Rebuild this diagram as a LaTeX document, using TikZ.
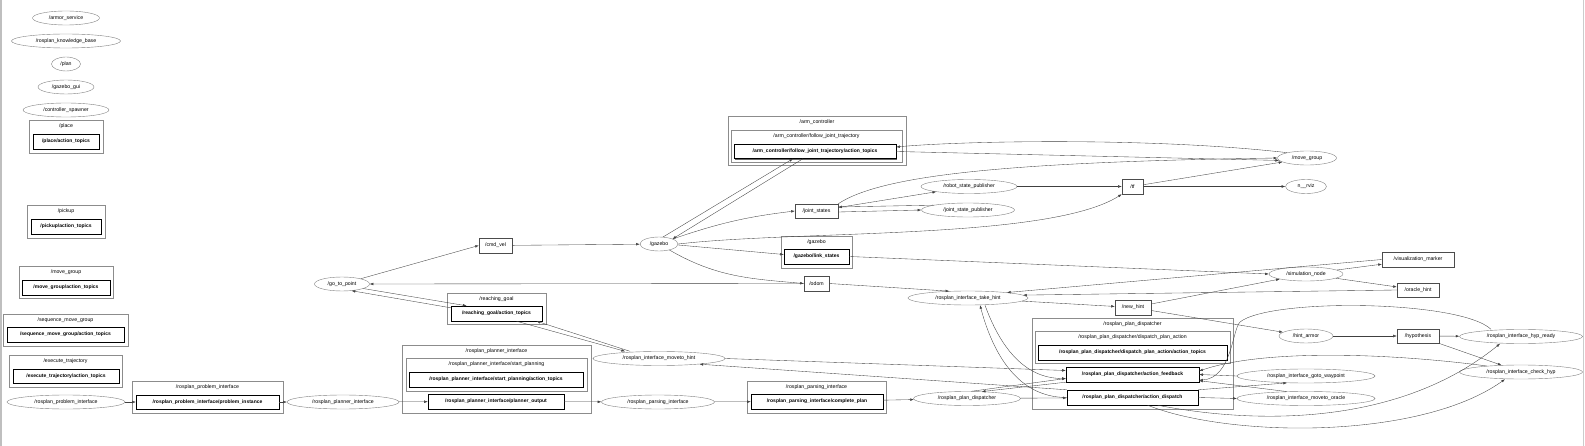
\documentclass[tikz,border=0pt]{standalone}
\usepackage{fontspec}
\newfontfamily\gfont{Liberation Sans}
\usepackage{tikz}
\usetikzlibrary{positioning,arrows.meta,shapes.geometric,shadows}

\begin{document}
\begin{tikzpicture}[
  x=1pt, y=1pt,
  every node/.style={font=\gfont\fontsize{5.2}{6}\selectfont, inner sep=0pt},
  rosnode/.style={draw=black!50, ellipse, minimum height=14},
  topic/.style={draw=black!70, rectangle, minimum height=15},
  topicb/.style={draw=black, rectangle, minimum height=15, font=\gfont\bfseries\fontsize{5}{6}\selectfont},
  box3d/.style={topicb, fill=white, drop shadow={shadow xshift=1.2pt, shadow yshift=-1.2pt, fill=black!60, opacity=1}},
  cluster/.style={draw=black!45, rectangle},
  clbl/.style={anchor=north, inner sep=3.5pt},
  edge/.style={-{Latex[length=3.6pt,width=2.6pt]}, draw=black!75, line width=0.35pt},
]
  \useasboundingbox (0,0) rectangle (1585,-446);
  \draw[black!25, line width=1.5pt] (0.75,0) -- (0.75,-446);
  \draw[black!20, line width=1pt] (1583.5,0) -- (1583.5,-446);

  % lone nodes
  \node[rosnode, minimum width=67] (armor) at (66,-18) {/armor\_service};
  \node[rosnode, minimum width=109] (kb) at (66,-41) {/rosplan\_knowledge\_base};
  \node[rosnode, minimum width=29] (plan) at (66,-64) {/plan};
  \node[rosnode, minimum width=56] (gazebogui) at (66,-87) {/gazebo\_gui};
  \node[rosnode, minimum width=86] (spawner) at (66,-110) {/controller\_spawner};

  % action namespaces on the left
  \node[cluster, minimum width=74, minimum height=33, label={[clbl]north:/place}] (placec) at (66,-136.5) {};
  \node[box3d, minimum width=66] (placetopics) at (66,-141.5) {/place/action\_topics};
  \node[cluster, minimum width=78, minimum height=33, label={[clbl]north:/pickup}] (pickupc) at (66,-221.5) {};
  \node[box3d, minimum width=70] (pickuptopics) at (66,-226.5) {/pickup/action\_topics};
  \node[cluster, minimum width=94, minimum height=32, label={[clbl]north:/move\_group}] (mgc) at (66,-282) {};
  \node[box3d, minimum width=88] (mgtopics) at (66,-287.5) {/move\_group/action\_topics};
  \node[cluster, minimum width=125, minimum height=32, label={[clbl]north:/sequence\_move\_group}] (seqc) at (65.5,-330) {};
  \node[box3d, minimum width=117] (seqtopics) at (65.5,-334.5) {/sequence\_move\_group/action\_topics};
  \node[cluster, minimum width=113, minimum height=32, label={[clbl]north:/execute\_trajectory}] (exec) at (65.5,-371) {};
  \node[box3d, minimum width=106, minimum height=14] (exectopics) at (66,-376) {/execute\_trajectory/action\_topics};

  % planning chain
  \node[rosnode, minimum width=118] (probint) at (66,-402) {/rosplan\_problem\_interface};
  \node[cluster, minimum width=151, minimum height=32, label={[clbl]north:/rosplan\_problem\_interface}] (probc) at (207.5,-397) {};
  \node[topicb, minimum width=143, minimum height=14] (probinst) at (207.5,-402) {/rosplan\_problem\_interface/problem\_instance};
  \node[rosnode, minimum width=112] (planint) at (343,-402) {/rosplan\_planner\_interface};
  \node[cluster, minimum width=189, minimum height=68, label={[clbl]north:/rosplan\_planner\_interface}] (planc) at (496.5,-379) {};
  \node[cluster, minimum width=181, minimum height=33, label={[clbl]north:/rosplan\_planner\_interface/start\_planning}] (startc) at (496.5,-374.5) {};
  \node[box3d, minimum width=174] (starttopics) at (496,-379.5) {/rosplan\_planner\_interface/start\_planning/action\_topics};
  \node[topicb, minimum width=136] (planout) at (496,-401.5) {/rosplan\_planner\_interface/planner\_output};
  \node[rosnode, minimum width=113] (parsing) at (658,-402) {/rosplan\_parsing\_interface};
  \node[cluster, minimum width=139, minimum height=32, label={[clbl]north:/rosplan\_parsing\_interface}] (parsc) at (816.5,-397) {};
  \node[topicb, minimum width=132] (complan) at (817,-401.5) {/rosplan\_parsing\_interface/complete\_plan};
  \node[rosnode, minimum width=107] (plandisp) at (967,-398.5) {/rosplan\_plan\_dispatcher};
  \node[cluster, minimum width=201, minimum height=91, label={[clbl]north:/rosplan\_plan\_dispatcher}] (dispc) at (1132.5,-363.5) {};
  \node[cluster, minimum width=195, minimum height=32, label={[clbl]north:/rosplan\_plan\_dispatcher/dispatch\_plan\_action}] (dpac) at (1132.5,-347) {};
  \node[box3d, minimum width=189] (dpatopics) at (1132.5,-352.5) {/rosplan\_plan\_dispatcher/dispatch\_plan\_action/action\_topics};
  \node[topicb, minimum width=133] (feedback) at (1132.5,-374.5) {/rosplan\_plan\_dispatcher/action\_feedback};
  \node[topicb, minimum width=131] (dispatch) at (1132.5,-397.5) {/rosplan\_plan\_dispatcher/action\_dispatch};
  \node[rosnode, minimum width=132] (movetohint) at (659,-358.5) {/rosplan\_interface\_moveto\_hint};

  % robot side
  \node[rosnode, minimum width=55] (gotopoint) at (342,-284) {/go\_to\_point};
  \node[topic, minimum width=33] (cmdvel) at (495.5,-245.5) {/cmd\_vel};
  \node[cluster, minimum width=99, minimum height=31, label={[clbl]north:/reaching\_goal}] (reachc) at (496.5,-308.5) {};
  \node[box3d, minimum width=91] (reachtopics) at (496.5,-313.5) {/reaching\_goal/action\_topics};
  \node[rosnode, minimum width=38] (gazebo) at (659,-244) {/gazebo};
  \node[cluster, minimum width=178, minimum height=49, label={[clbl]north:/arm\_controller}] (armc) at (817,-140.5) {};
  \node[cluster, minimum width=171, minimum height=32, label={[clbl]north:/arm\_controller/follow\_joint\_trajectory}] (fjtc) at (816.5,-146) {};
  \node[box3d, minimum width=162, minimum height=14] (armtopics) at (815,-151.5) {/arm\_controller/follow\_joint\_trajectory/action\_topics};
  \node[topic, minimum width=43, minimum height=14] (jointstates) at (816.5,-211) {/joint\_states};
  \node[cluster, minimum width=71, minimum height=32, label={[clbl]north:/gazebo}] (gazeboc) at (816.5,-252) {};
  \node[box3d, minimum width=65] (linkstates) at (816.5,-256.5) {/gazebo/link\_states};
  \node[topic, minimum width=25] (odom) at (816.5,-283.5) {/odom};
  \node[rosnode, minimum width=96] (robotsp) at (969,-186.5) {/robot\_state\_publisher};
  \node[rosnode, minimum width=93] (jsp) at (968,-210) {/joint\_state\_publisher};
  \node[box3d, draw=black!70, font=\gfont\fontsize{5.2}{6}\selectfont, minimum width=21] (tf) at (1132.5,-186.5) {/tf};
  \node[rosnode, minimum width=59] (movegroup) at (1307,-158) {/move\_group};
  \node[rosnode, minimum width=41] (rviz) at (1306,-186.5) {n\_\_rviz};

  % hint side
  \node[rosnode, minimum width=120] (takehint) at (968,-298) {/rosplan\_interface\_take\_hint};
  \node[topic, minimum width=36] (newhint) at (1133,-307.5) {/new\_hint};
  \node[rosnode, minimum width=74] (simnode) at (1306,-274) {/simulation\_node};
  \node[topic, minimum width=72] (vismarker) at (1418,-259.5) {/visualization\_marker};
  \node[topic, minimum width=42, minimum height=14] (oraclehint) at (1418,-290) {/oracle\_hint};
  \node[rosnode, minimum width=54] (hintarmor) at (1306,-336) {/hint\_armor};
  \node[topic, minimum width=42, minimum height=14] (hypothesis) at (1418,-336) {/hypothesis};
  \node[rosnode, minimum width=123] (hypready) at (1521,-336.5) {/rosplan\_interface\_hyp\_ready};
  \node[rosnode, minimum width=123] (checkhyp) at (1521,-372) {/rosplan\_interface\_check\_hyp};
  \node[rosnode, minimum width=138] (gotowp) at (1306,-376) {/rosplan\_interface\_goto\_waypoint};
  \node[rosnode, minimum width=138] (movetooracle) at (1306,-398.5) {/rosplan\_interface\_moveto\_oracle};

  % planning edges
  \draw[edge] (probint) -- (probinst);
  \draw[edge] (probinst) -- (planint);
  \draw[edge] (planint) -- (planout);
  \draw[edge] (planout) -- (parsing);
  \draw[edge] (parsing) -- (complan);
  \draw[edge] (complan) -- (plandisp);
  \draw[edge] (plandisp) -- (dispatch);
  \draw[edge] (feedback.south west) -- (plandisp.25);
  \draw[edge] (plandisp.60) -- ([yshift=-4pt]feedback.west);

  % robot edges
  \draw[edge] (gotopoint) -- (cmdvel.west);
  \draw[edge] (cmdvel) -- (gazebo);
  \draw[edge] (odom.west) -- (gotopoint.east);
  \draw[edge] (gotopoint.-12) -- ([xshift=-30pt]reachtopics.north);
  \draw[edge] ([yshift=-2pt]reachtopics.north west) -- (gotopoint.-35);
  \draw[edge] ([xshift=20pt]reachtopics.south) -- ([xshift=-34pt]movetohint.north);
  \draw[edge] ([xshift=-29pt]movetohint.north) -- ([xshift=40pt]reachtopics.south);
  \draw[edge] (gazebo.60) -- ([xshift=-22pt]armtopics.south);
  \draw[edge] ([xshift=-12pt]armtopics.south) -- (gazebo.north east);
  \draw[edge] (gazebo.20) to[bend left=6] (jointstates.west);
  \draw[edge] (gazebo.east) .. controls (800,-230) and (1050,-240) .. (tf.south west);
  \draw[edge] ([yshift=-1pt]gazebo.east) -- ([yshift=2pt]linkstates.west);
  \draw[edge] (gazebo.-30) to[out=-30,in=175] (odom.west);
  \draw[edge] (linkstates.east) -- (simnode.west);
  \draw[edge] (odom.east) -- (takehint.160);
  \draw[edge] (jointstates.north east) .. controls (880,-176) and (1000,-162) .. (movegroup.west);
  \draw[edge] (jointstates) -- (robotsp);
  \draw[edge] (jsp.172) -- ([yshift=4pt]jointstates.east);
  \draw[edge] ([yshift=-1pt]jointstates.east) -- (jsp.west);
  \draw[edge] (robotsp) -- (tf);
  \draw[edge] (tf) -- (movegroup);
  \draw[edge] (tf) -- (rviz);
  \draw[edge] (movegroup.165) .. controls (1150,-137) and (960,-141) .. ([yshift=4.5pt]armtopics.east);
  \draw[edge] (armtopics.east) -- (movegroup.185);

  % hint edges
  \draw[edge] (vismarker.west) -- (takehint.8);
  \draw[edge] (oraclehint.west) -- (takehint.3);
  \draw[edge] (takehint) -- (newhint);
  \draw[edge] (newhint) -- (simnode);
  \draw[edge] (newhint) -- (hintarmor);
  \draw[edge] (simnode) -- (vismarker);
  \draw[edge] (simnode) -- (oraclehint);
  \draw[edge] (hintarmor) -- (hypothesis);
  \draw[edge] (hypothesis) -- (hypready);
  \draw[edge] (hypothesis) -- (checkhyp);

  % dispatcher edges
  \draw[edge] (dispatch.west) to[out=180,in=-75] ([xshift=12pt]takehint.south);
  \draw[edge] ([xshift=17pt]takehint.south) to[out=-70,in=180] ([yshift=-4pt]feedback.west);
  \draw[edge] (movetohint.east) -- ([yshift=4pt]feedback.west);
  \draw[edge] (dispatch.north west) -- (movetohint.-8);
  \draw[edge] (dispatch.north east) -- (gotowp.200);
  \draw[edge] (gotowp.west) -- (feedback.east);
  \draw[edge] (dispatch.east) -- (movetooracle.west);
  \draw[edge] (movetooracle.160) -- ([yshift=1.5pt]feedback.south east);
  \draw[edge] ([xshift=-30pt]hypready.north) .. controls (1460,-300) and (1270,-298) .. (1240,-322)
      .. controls (1232,-330) and (1232,-378) .. ([yshift=2pt]feedback.south east);
  \draw[edge] (checkhyp.170) .. controls (1380,-352) and (1260,-350) .. ([yshift=3.5pt]feedback.east);
  \draw[edge] ([xshift=25pt]dispatch.south) .. controls (1260,-425) and (1400,-425) .. ([xshift=-21pt]hypready.south);
  \draw[edge] ([xshift=15pt]dispatch.south) .. controls (1230,-438) and (1420,-440) .. ([xshift=-16pt]checkhyp.south);
\end{tikzpicture}
\end{document}
